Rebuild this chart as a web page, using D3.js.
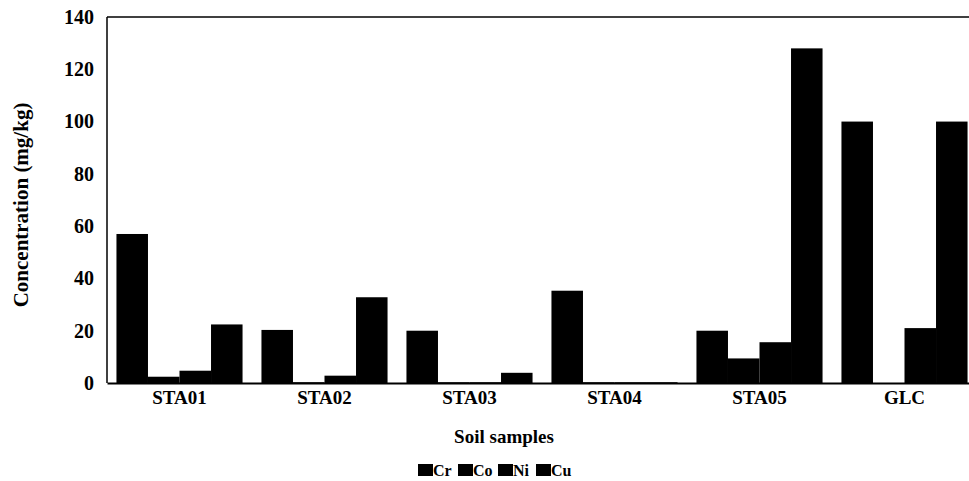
<!DOCTYPE html>
<html><head><meta charset="utf-8">
<script src="https://cdn.jsdelivr.net/npm/d3@7"></script>
<style>body{margin:0;background:#fff}svg{display:block}</style>
</head><body>
<script>
const categories = ["STA01","STA02","STA03","STA04","STA05","GLC"];
const seriesNames = ["Cr","Co","Ni","Cu"];
const Cr = [57, 20.3, 20, 35.3, 20, 100];
const Co = [2.4, 0.3, 0.3, 0.3, 9.4, 0];
const Ni = [4.7, 2.8, 0.3, 0.3, 15.6, 21];
const Cu = [22.4, 32.8, 3.9, 0.3, 128, 100];
const yTicks = [0,20,40,60,80,100,120,140];
const seriesValues = [Cr, Co, Ni, Cu];

const W = 969, H = 481;
const m = {left:107, right:-8, top:17, bottom:98};
const svg = d3.select("body").append("svg").attr("width",W).attr("height",H);
const x0 = d3.scaleBand().domain(categories).range([m.left, W - m.right]).paddingInner(0).paddingOuter(0);
const x1 = d3.scaleBand().domain(seriesNames).range([0, x0.bandwidth()]).paddingOuter(0.3).paddingInner(0);
const y = d3.scaleLinear().domain([0,140]).range([H - m.bottom, m.top]);
const font = "'Liberation Serif','Times New Roman',serif";

// frame
svg.append("line").attr("x1",m.left).attr("x2",W).attr("y1",y(140)).attr("y2",y(140)).attr("stroke","#000").attr("stroke-width",1.5);
svg.append("line").attr("x1",m.left).attr("x2",m.left).attr("y1",y(140)).attr("y2",y(0)).attr("stroke","#000").attr("stroke-width",1.5);

const data = [];
categories.forEach((c,i)=>seriesNames.forEach((s,j)=>data.push({c,s,v:seriesValues[j][i]})));
svg.append("g").selectAll("rect").data(data).join("rect")
  .attr("x", d=>x0(d.c)+x1(d.s))
  .attr("width", x1.bandwidth())
  .attr("y", d=>y(d.v))
  .attr("height", d=>y(0)-y(d.v))
  .attr("fill","#000");

// x axis
const xa = svg.append("g").attr("transform",`translate(0,${y(0)})`)
  .call(d3.axisBottom(x0).tickSize(0).tickPadding(8));
xa.select(".domain").attr("stroke-width",2);
xa.selectAll("text").attr("font-family",font).attr("font-weight","bold").attr("font-size",19).attr("fill","#000");

// y axis
const ya = svg.append("g").attr("transform",`translate(${m.left},0)`)
  .call(d3.axisLeft(y).tickValues(yTicks).tickSize(0).tickPadding(13));
ya.select(".domain").remove();
ya.selectAll("text").attr("font-family",font).attr("font-weight","bold").attr("font-size",20).attr("fill","#000");

svg.append("text").attr("x",504).attr("y",443).attr("text-anchor","middle")
  .attr("font-family",font).attr("font-weight","bold").attr("font-size",19).text("Soil samples");
svg.append("text").attr("transform",`translate(28,${(y(0)+y(140))/2 + 5}) rotate(-90)`).attr("text-anchor","middle")
  .attr("font-family",font).attr("font-weight","bold").attr("font-size",21).text("Concentration (mg/kg)");

// legend
const lg = svg.append("g").attr("transform","translate(418,464)");
const offs = [0, 40, 80, 118];
seriesNames.forEach((s,i)=>{
  const g = lg.append("g").attr("transform",`translate(${offs[i]},0)`);
  g.append("rect").attr("x",0).attr("y",0).attr("width",15).attr("height",12).attr("fill","#000");
  g.append("text").attr("x",15).attr("y",12).attr("font-family",font).attr("font-weight","bold").attr("font-size",16).text(s);
});
</script>
</body></html>
